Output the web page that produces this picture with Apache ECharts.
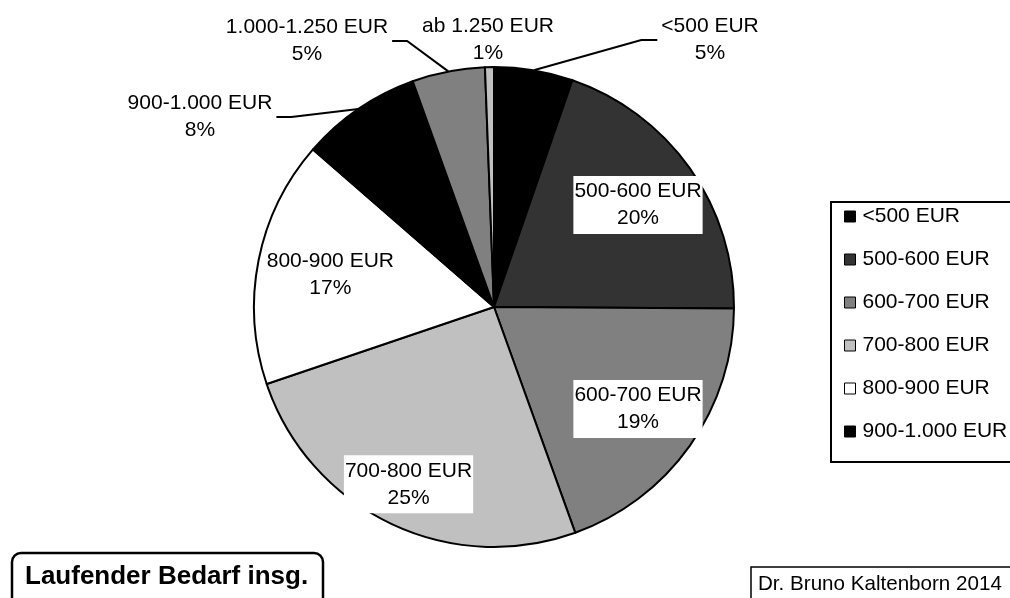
<!DOCTYPE html>
<html>
<head>
<meta charset="utf-8">
<script src="https://cdn.jsdelivr.net/npm/echarts@6/dist/echarts.min.js"></script>
<style>
  html, body { margin: 0; padding: 0; background: #fff; }
  #chart { width: 1010px; height: 598px; }
</style>
</head>
<body>
<div id="chart"></div>
<script>
// Monthly running need, share of households per amount band
const categories = ['<500 EUR', '500-600 EUR', '600-700 EUR', '700-800 EUR', '800-900 EUR',
                    '900-1.000 EUR', '1.000-1.250 EUR', 'ab 1.250 EUR'];
const shares = [5.3, 19.8, 19.4, 25.3, 16.6, 8.1, 4.9, 0.6];
const sliceColors = ['#000000', '#333333', '#808080', '#c0c0c0', '#ffffff', '#000000', '#808080', '#c0c0c0'];
const legendEntries = categories.slice(0, 6);
const footerTitle = 'Laufender Bedarf insg.';
const footerSource = 'Dr. Bruno Kaltenborn 2014';

const FONT = 'Liberation Sans, Arial, sans-serif';
const PIE_CX = 494, PIE_CY = 307, PIE_R = 240;

// Inside labels sit on the slice's mid-angle at a fraction of the radius;
// outside labels get a fixed anchor and an elbow leader line.
const labelPlacement = [
  { at: [710, 40], side: 'right', line: true },
  { inside: 0.735 },
  { inside: 0.735 },
  { inside: 0.82 },
  { inside: 0.695 },
  { at: [200, 117], side: 'left', line: true },
  { at: [307, 41], side: 'left', line: true },
  { at: [488, 40], line: false }
];

const total = shares.reduce((a, b) => a + b, 0);
const midAngles = [];
let acc = 0;
shares.forEach(v => { midAngles.push(2 * Math.PI * (acc + v / 2) / total); acc += v; });

const chart = echarts.init(document.getElementById('chart'), null, { renderer: 'canvas' });

chart.setOption({
  animation: false,
  backgroundColor: '#fff',
  legend: {
    data: legendEntries,
    orient: 'vertical',
    left: 831,
    top: 202,
    padding: [4, 80, 20, 13],
    itemGap: 22,
    itemWidth: 11,
    itemHeight: 11,
    icon: 'rect',
    borderColor: '#000',
    borderWidth: 2,
    borderRadius: 0,
    backgroundColor: '#fff',
    selectedMode: false,
    itemStyle: { borderColor: '#000', borderWidth: 1 },
    textStyle: { fontFamily: FONT, fontSize: 21, color: '#000', lineHeight: 21, padding: [0, 0, 0, 2] }
  },
  series: [{
    type: 'pie',
    center: [PIE_CX, PIE_CY],
    radius: PIE_R,
    startAngle: 90,
    clockwise: true,
    avoidLabelOverlap: false,
    silent: true,
    itemStyle: { borderColor: '#000', borderWidth: 2 },
    label: {
      show: true,
      fontFamily: FONT,
      fontSize: 21,
      lineHeight: 27,
      color: '#000',
      overflow: 'none',
      formatter: p => p.name + '\n' + Math.round(p.percent) + '%'
    },
    labelLine: { show: true, smooth: false, lineStyle: { color: '#000', width: 2 } },
    labelLayout: function (p) {
      const i = p.dataIndex;
      const pl = labelPlacement[i];
      const a = midAngles[i];
      if (pl.inside) {
        const rr = PIE_R * pl.inside;
        return { x: PIE_CX + rr * Math.sin(a), y: PIE_CY - rr * Math.cos(a), align: 'center', verticalAlign: 'middle' };
      }
      const lx = pl.at[0], ly = pl.at[1];
      const out = { x: lx, y: ly, align: 'center', verticalAlign: 'middle' };
      if (pl.line) {
        const w = p.labelRect.width;
        const end = pl.side === 'right' ? lx - w / 2 - 4 : lx + w / 2 + 4;
        const elbow = pl.side === 'right' ? end - 16 : end + 15;
        out.labelLinePoints = [
          [PIE_CX + PIE_R * Math.sin(a), PIE_CY - PIE_R * Math.cos(a)],
          [elbow, ly],
          [end, ly]
        ];
      }
      return out;
    },
    data: categories.map((name, i) => {
      const pl = labelPlacement[i];
      return {
        name: name,
        value: shares[i],
        itemStyle: { color: sliceColors[i] },
        label: pl.inside
          ? { position: 'inside', backgroundColor: '#fff', padding: [2, 1] }
          : { position: 'outside' },
        labelLine: { show: !!pl.line }
      };
    })
  }],
  graphic: [
    {
      type: 'rect',
      shape: { x: 12, y: 553, width: 311, height: 60, r: 9 },
      style: { fill: '#fff', stroke: '#000', lineWidth: 2.5 }
    },
    {
      type: 'text',
      x: 25, y: 577,
      style: { text: footerTitle, fontFamily: FONT, fontSize: 26, fontWeight: 'bold', fill: '#000', verticalAlign: 'middle' }
    },
    {
      type: 'rect',
      shape: { x: 751, y: 567, width: 290, height: 50 },
      style: { fill: '#fff', stroke: '#000', lineWidth: 1.5 }
    },
    {
      type: 'text',
      x: 758, y: 584,
      style: { text: footerSource, fontFamily: FONT, fontSize: 20.6, fill: '#000', verticalAlign: 'middle' }
    }
  ]
});
</script>
</body>
</html>
